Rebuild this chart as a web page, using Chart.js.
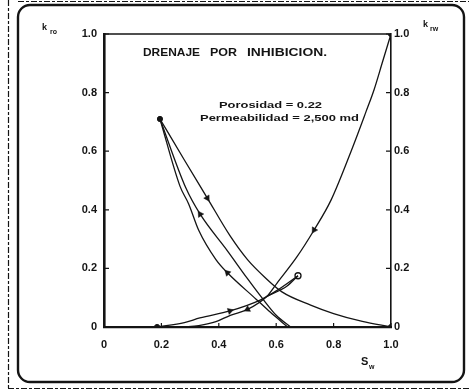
<!DOCTYPE html>
<html lang="es">
<head>
<meta charset="UTF-8">
<title>Permeabilidades relativas</title>
<script src="https://cdn.jsdelivr.net/npm/chart.js"></script>
<style>
  html, body { margin: 0; padding: 0; background: #fff; }
  #wrap { width: 469px; height: 390px; position: relative; }
</style>
</head>
<body>
<div id="wrap"><canvas id="kr" width="469" height="390"></canvas></div>
<script>
  // curvas de aceite (kro) contra saturacion de agua
  const swOilA = [0.195, 0.28, 0.36, 0.44, 0.50, 0.56, 0.62, 0.72, 0.80, 0.90, 1.0];
  const kroA   = [0.71, 0.57, 0.44, 0.31, 0.23, 0.17, 0.12, 0.075, 0.046, 0.019, 0];
  const swOilB = [0.195, 0.285, 0.335, 0.43, 0.50, 0.55, 0.60, 0.65];
  const kroB   = [0.71, 0.475, 0.385, 0.26, 0.165, 0.10, 0.04, 0];
  const swOilC = [0.195, 0.265, 0.295, 0.33, 0.39, 0.43, 0.53, 0.58, 0.64];
  const kroC   = [0.71, 0.48, 0.42, 0.33, 0.23, 0.185, 0.095, 0.05, 0];

  // curvas de agua (krw)
  const swWatA = [0.275, 0.33, 0.39, 0.44, 0.50, 0.568, 0.603, 0.672, 0.732, 0.791, 0.861, 0.913, 0.941, 0.969, 1.0];
  const krwA   = [0, 0.005, 0.018, 0.04, 0.06, 0.105, 0.15, 0.239, 0.331, 0.433, 0.60, 0.735, 0.81, 0.90, 1.0];
  const swWatB = [0.185, 0.28, 0.334, 0.439, 0.544, 0.603, 0.676];
  const krwB   = [0, 0.015, 0.031, 0.055, 0.092, 0.125, 0.175];
  const swWatC = [0.568, 0.638, 0.676];
  const krwC   = [0.105, 0.14, 0.175];

  // puntos extremos
  const dotSw = [0.195, 1.0, 1.0, 0.185];
  const dotK  = [0.71, 1.0, 0, 0];
  const openSw = [0.676];
  const openK  = [0.175];

  const ticksK = [0, 0.2, 0.4, 0.6, 0.8, 1.0];

  const INK = '#141414';
  const pts = (xs, ys) => xs.map((x, i) => ({ x: x, y: ys[i] }));

  // punta de flecha orientada segun la tangente de la curva
  function arrowRotation(c) {
    const ds = c.dataset, i = c.dataIndex, n = ds.data.length;
    const xs = c.chart.scales.x, ys = c.chart.scales.y;
    const a = ds.data[Math.max(i - 1, 0)], b = ds.data[Math.min(i + 1, n - 1)];
    const dx = (xs.getPixelForValue(b.x) - xs.getPixelForValue(a.x)) * ds.arrowDir;
    const dy = (ys.getPixelForValue(b.y) - ys.getPixelForValue(a.y)) * ds.arrowDir;
    return Math.atan2(dy, dx) * 180 / Math.PI + 90;
  }

  function curve(xs, ys, arrowAt, arrowDir) {
    return {
      type: 'scatter',
      data: pts(xs, ys),
      showLine: true,
      borderColor: INK,
      borderWidth: 1.3,
      cubicInterpolationMode: 'monotone',
      backgroundColor: INK,
      pointStyle: 'triangle',
      arrowDir: arrowDir,
      pointRadius: c => arrowAt.includes(c.dataIndex) ? 3.6 : 0,
      pointBorderWidth: 0.5,
      pointRotation: arrowRotation,
      pointHoverRadius: 0
    };
  }

  const fmt = v => v === 0 ? '0' : v.toFixed(1);

  // marco redondeado, rotulos de ejes, textos y marcas interiores
  const decor = {
    id: 'decor',
    beforeDraw(chart) {
      const ctx = chart.ctx;
      ctx.save();
      ctx.fillStyle = '#fff';
      ctx.fillRect(0, 0, chart.width, chart.height);
      ctx.strokeStyle = INK;
      ctx.lineWidth = 1.2;
      ctx.setLineDash([6, 2, 3, 2]);
      ctx.beginPath();
      ctx.moveTo(8.5, 0); ctx.lineTo(8.5, 388);
      ctx.moveTo(8, 388.5); ctx.lineTo(469, 388.5);
      ctx.moveTo(18, 1.5); ctx.lineTo(469, 1.5);
      ctx.stroke();
      ctx.setLineDash([]);
      ctx.lineWidth = 2.4;
      ctx.beginPath();
      ctx.roundRect(18, 5, 446, 377, 12);
      ctx.stroke();
      ctx.restore();
    },
    afterDraw(chart) {
      const ctx = chart.ctx, a = chart.chartArea;
      const xs = chart.scales.x, ys = chart.scales.y;
      ctx.save();
      ctx.strokeStyle = INK;
      ctx.fillStyle = INK;
      // borde superior
      ctx.lineWidth = 1.6;
      ctx.beginPath();
      ctx.moveTo(a.left, a.top); ctx.lineTo(a.right, a.top);
      ctx.stroke();
      // marcas hacia adentro
      ctx.lineWidth = 1.2;
      ctx.beginPath();
      ticksK.forEach(v => {
        const py = ys.getPixelForValue(v), px = xs.getPixelForValue(v);
        ctx.moveTo(a.left, py); ctx.lineTo(a.left + 5, py);
        ctx.moveTo(a.right, py); ctx.lineTo(a.right - 5, py);
        ctx.moveTo(px, a.bottom); ctx.lineTo(px, a.bottom - 4);
      });
      ctx.stroke();

      const fit = (txt, x, y, w, font) => {
        ctx.font = font;
        const m = ctx.measureText(txt).width;
        ctx.save();
        ctx.translate(x, y);
        ctx.scale(w / m, 1);
        ctx.textBaseline = 'middle';
        ctx.textAlign = 'left';
        ctx.fillText(txt, 0, 0);
        ctx.restore();
      };
      fit('DRENAJE', 143, 53, 57, 'bold 10px "Liberation Sans"');
      fit('POR', 210, 53, 27, 'bold 10px "Liberation Sans"');
      fit('INHIBICION.', 247, 53, 80, 'bold 10px "Liberation Sans"');
      fit('Porosidad = 0.22', 219, 105, 103, 'bold 9.5px "Liberation Sans"');
      fit('Permeabilidad = 2,500 md', 200, 118, 159, 'bold 9.5px "Liberation Sans"');

      // k_ro, k_rw, S_w
      ctx.textBaseline = 'middle';
      ctx.textAlign = 'left';
      ctx.font = 'bold 9px "Liberation Sans"';
      ctx.fillText('k', 42, 28);
      ctx.fillText('k', 423, 25);
      ctx.font = 'bold 7px "Liberation Sans"';
      ctx.fillText('ro', 50, 32);
      ctx.fillText('rw', 430, 29);
      ctx.font = 'bold 11px "Liberation Sans"';
      ctx.fillText('S', 361, 362);
      ctx.font = 'bold 7px "Liberation Sans"';
      ctx.fillText('w', 369, 367);
      ctx.restore();
    }
  };

  const tickFont = { family: '"Liberation Sans", sans-serif', size: 11, weight: 'bold' };

  new Chart(document.getElementById('kr'), {
    type: 'scatter',
    data: {
      datasets: [
        curve(swOilA, kroA, [2], 1),
        curve(swOilB, kroB, [2], -1),
        curve(swOilC, kroC, [5], -1),
        curve(swWatA, krwA, [4, 8], -1),
        curve(swWatB, krwB, [3], 1),
        curve(swWatC, krwC, [], 1),
        {
          type: 'scatter',
          data: pts(dotSw, dotK),
          pointStyle: 'circle',
          pointRadius: 2.6,
          backgroundColor: INK,
          borderColor: INK,
          pointHoverRadius: 0
        },
        {
          type: 'scatter',
          data: pts(openSw, openK),
          pointStyle: 'circle',
          pointRadius: 3,
          backgroundColor: '#fff',
          borderColor: INK,
          borderWidth: 1.3,
          pointHoverRadius: 0
        }
      ]
    },
    options: {
      responsive: false,
      animation: false,
      events: [],
      layout: { padding: { left: 0, right: 0, top: 34, bottom: 0 } },
      plugins: { legend: { display: false }, tooltip: { enabled: false } },
      scales: {
        x: {
          type: 'linear', position: 'bottom', min: 0, max: 1,
          afterFit: s => { s.height = 63; },
          afterBuildTicks: s => { s.ticks = ticksK.map(v => ({ value: v })); },
          grid: { drawOnChartArea: false, drawTicks: false },
          border: { display: true, color: INK, width: 2.2 },
          ticks: { color: INK, font: tickFont, padding: 11, maxRotation: 0, callback: fmt }
        },
        y: {
          type: 'linear', position: 'left', min: 0, max: 1,
          afterFit: s => { s.width = 104; },
          afterBuildTicks: s => { s.ticks = ticksK.map(v => ({ value: v })); },
          grid: { drawOnChartArea: false, drawTicks: false },
          border: { display: true, color: INK, width: 2.6 },
          ticks: { color: INK, font: tickFont, padding: 7, callback: fmt }
        },
        y2: {
          type: 'linear', position: 'right', min: 0, max: 1,
          afterFit: s => { s.width = 78; },
          afterBuildTicks: s => { s.ticks = ticksK.map(v => ({ value: v })); },
          grid: { drawOnChartArea: false, drawTicks: false },
          border: { display: true, color: INK, width: 1.6 },
          ticks: { color: INK, font: tickFont, padding: 3, callback: fmt }
        }
      }
    },
    plugins: [decor]
  });
</script>
</body>
</html>
